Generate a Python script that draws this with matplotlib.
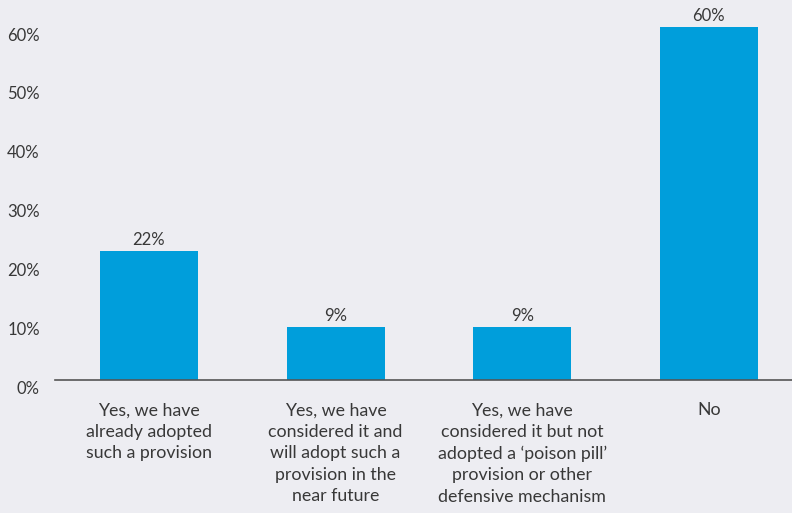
import matplotlib.pyplot as plt
from matplotlib.transforms import ScaledTranslation

categories = [
    'Yes, we have\nalready adopted\nsuch a provision',
    'Yes, we have\nconsidered it and\nwill adopt such a\nprovision in the\nnear future',
    'Yes, we have\nconsidered it but not\nadopted a \u2018poison pill\u2019\nprovision or other\ndefensive mechanism',
    'No',
]
values = [22, 9, 9, 60]
value_labels = ['22%', '9%', '9%', '60%']
y_ticks = [0, 10, 20, 30, 40, 50, 60]
y_tick_labels = ['0%', '10%', '20%', '30%', '40%', '50%', '60%']

bg = '#EDEDF2'
bar_color = '#009EDB'
text_color = '#383838'

plt.rcParams['font.family'] = ['Lato', 'DejaVu Sans']

fig = plt.figure(figsize=(7.92, 5.13), dpi=100, facecolor=bg)
ax = fig.add_axes([55 / 792, (513 - 380) / 513, 737 / 792, 380 / 513])
ax.set_facecolor(bg)

x = range(len(values))
ax.bar(x, values, width=0.525, color=bar_color)

for i, (v, lab) in enumerate(zip(values, value_labels)):
    ax.annotate(lab, (i, v), xytext=(0, 2), textcoords='offset points',
                ha='center', va='bottom', fontsize=12, color=text_color)

ax.set_xlim(-0.503, 3.445)
ax.set_ylim(0, 64.6)

ax.set_xticks(list(x))
ax.set_xticklabels(categories, fontsize=12.8, color=text_color, linespacing=1.42)
ax.tick_params(axis='x', length=0, pad=16)

ax.set_yticks(y_ticks)
ax.set_yticklabels(y_tick_labels, fontsize=12, color=text_color)
ax.tick_params(axis='y', length=0, pad=11)
# tick labels in the reference sit a bit below their gridline positions
offset = ScaledTranslation(0, -7 / 100, fig.dpi_scale_trans)
for lab in ax.get_yticklabels():
    lab.set_transform(lab.get_transform() + offset)

for side in ['top', 'right', 'left']:
    ax.spines[side].set_visible(False)
ax.spines['bottom'].set_color('#555555')
ax.spines['bottom'].set_linewidth(1.2)

fig.savefig('out.png', dpi=100, facecolor=bg)
